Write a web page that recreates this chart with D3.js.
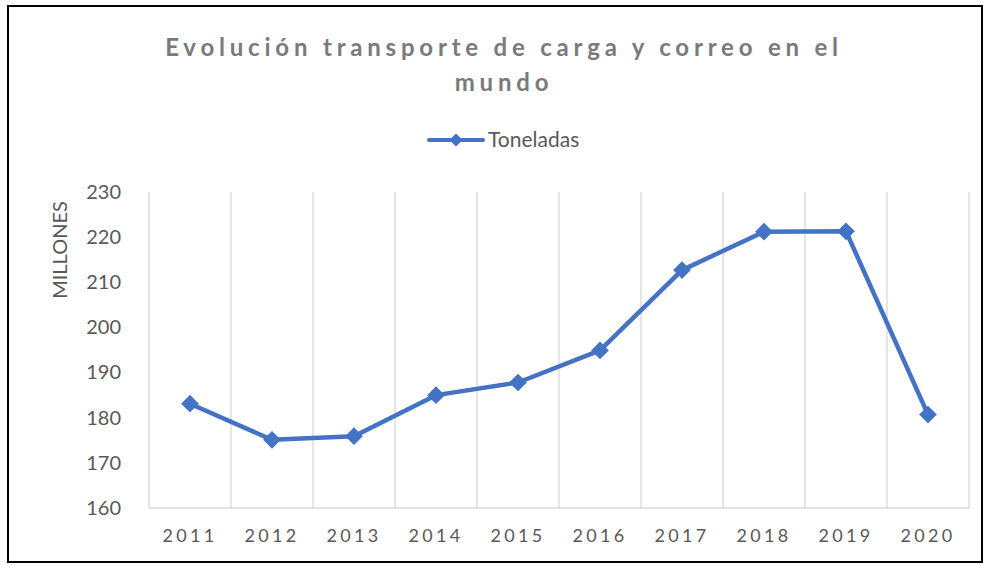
<!DOCTYPE html>
<html>
<head>
<meta charset="utf-8">
<script src="https://cdn.jsdelivr.net/npm/d3@7"></script>
<style>
  html, body { margin: 0; padding: 0; background: #fff; }
  svg { display: block; }
  text { font-family: Lato, "Open Sans", sans-serif; }
</style>
</head>
<body>
<svg id="chart" width="986" height="565"></svg>
<script>
// Air cargo and mail volume, millions of tonnes
const years = ["2011", "2012", "2013", "2014", "2015", "2016", "2017", "2018", "2019", "2020"];
const toneladas = [183.1, 175.1, 175.9, 185.0, 187.8, 194.9, 212.7, 221.2, 221.3, 180.7];
const yTicks = [160, 170, 180, 190, 200, 210, 220, 230];
const titleLines = ["Evolución transporte de carga y correo en el", "mundo"];
const seriesName = "Toneladas";
const yAxisTitle = "MILLONES";

const svg = d3.select("#chart");
const blue = "#4472c4";
const textGray = "#595959";
const gridGray = "#d9d9d9";

// chart frame
svg.append("rect")
  .attr("x", 8).attr("y", 6)
  .attr("width", 974).attr("height", 556)
  .attr("fill", "#fff").attr("stroke", "#000").attr("stroke-width", 2);

const plot = { left: 149, right: 969, top: 192, bottom: 508 };

const x = d3.scaleBand().domain(years).range([plot.left, plot.right]);
const y = d3.scaleLinear().domain([160, 230]).range([plot.bottom, plot.top]);

// title
svg.append("text")
  .attr("x", 502).attr("y", 0)
  .attr("text-anchor", "middle")
  .attr("fill", "#7a7a7a")
  .attr("font-size", 24).attr("font-weight", "bold")
  .attr("letter-spacing", "4.8px")
  .selectAll("tspan").data(titleLines).join("tspan")
  .attr("x", 504)
  .attr("y", (d, i) => 56 + i * 35)
  .text(d => d);

// legend
const lg = svg.append("g").attr("transform", "translate(0,140)");
lg.append("line").attr("x1", 429).attr("x2", 483).attr("y1", 0).attr("y2", 0)
  .attr("stroke", blue).attr("stroke-width", 4).attr("stroke-linecap", "round");
lg.append("path").attr("d", d3.symbol(d3.symbolDiamond2, 110)())
  .attr("transform", "translate(456,0)").attr("fill", blue);
lg.append("text").attr("x", 488).attr("y", 7)
  .attr("font-size", 21).attr("fill", textGray).text(seriesName);

// vertical category gridlines
const bounds = years.map(d => x(d)).concat([plot.right]);
svg.append("g").selectAll("line").data(bounds).join("line")
  .attr("x1", d => d).attr("x2", d => d)
  .attr("y1", plot.top).attr("y2", plot.bottom)
  .attr("stroke", gridGray).attr("stroke-width", 1.3);

// bottom axis line
svg.append("line")
  .attr("x1", plot.left).attr("x2", plot.right)
  .attr("y1", plot.bottom).attr("y2", plot.bottom)
  .attr("stroke", gridGray).attr("stroke-width", 1.3);

// y axis labels
const yAxis = d3.axisLeft(y).tickValues(yTicks).tickSize(0).tickPadding(0);
const gy = svg.append("g").attr("transform", "translate(121,0)").call(yAxis);
gy.select(".domain").remove();
gy.selectAll("text")
  .attr("font-family", "Lato, 'Open Sans', sans-serif")
  .attr("font-size", 20).attr("fill", textGray);

// x axis labels
const xAxis = d3.axisBottom(x).tickSize(0).tickPadding(0);
const gx = svg.append("g").attr("transform", `translate(0,${plot.bottom})`).call(xAxis);
gx.select(".domain").remove();
gx.selectAll("text")
  .attr("font-family", "Lato, 'Open Sans', sans-serif")
  .attr("font-size", 18).attr("fill", textGray)
  .attr("letter-spacing", "3.3px")
  .attr("dy", 0).attr("y", 34);

// y axis title
svg.append("text")
  .attr("transform", "translate(67,250) rotate(-90)")
  .attr("text-anchor", "middle")
  .attr("font-size", 20).attr("fill", textGray)
  .text(yAxisTitle);

// series line and markers
const cx = d => x(d) + x.bandwidth() / 2;
const line = d3.line().x((d, i) => cx(years[i])).y(d => y(d));
svg.append("path").datum(toneladas)
  .attr("d", line)
  .attr("fill", "none").attr("stroke", blue)
  .attr("stroke-width", 4.5).attr("stroke-linejoin", "round").attr("stroke-linecap", "round");

svg.append("g").selectAll("path").data(toneladas).join("path")
  .attr("d", d3.symbol(d3.symbolDiamond2, 200)())
  .attr("transform", (d, i) => `translate(${cx(years[i])},${y(d)})`)
  .attr("fill", blue);
</script>
</body>
</html>
